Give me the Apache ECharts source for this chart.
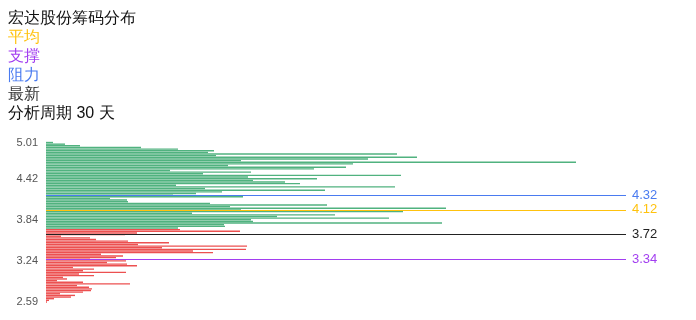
<!DOCTYPE html>
<html><head><meta charset="utf-8">
<script src="https://cdn.jsdelivr.net/npm/echarts@6/dist/echarts.min.js"></script>
<style>html,body{margin:0;padding:0;background:#fff}#c{width:696px;height:320px}</style>
</head><body><div id="c"></div>
<script>
// price bins, bottom to top
const prices = ['2.59','2.62','2.64','2.67','2.69','2.72','2.75','2.77','2.80','2.82','2.85','2.88','2.90','2.93','2.95','2.98','3.01','3.03','3.06','3.08','3.11','3.14','3.16','3.19','3.21','3.24',
 '3.34','3.37','3.39','3.42','3.44','3.47','3.49','3.52','3.54','3.57','3.59','3.62','3.64','3.67','3.69','3.72',
 '3.73','3.75','3.76','3.77','3.79','3.80','3.81','3.83','3.84',
 '3.89','3.93','3.98','4.03','4.07','4.12',
 '4.14','4.16','4.18','4.20','4.22','4.24','4.26','4.28','4.32',
 '4.33','4.34','4.35','4.36','4.37','4.38','4.39','4.40','4.41','4.42',
 '4.45','4.47','4.50','4.53','4.55','4.58','4.61','4.63','4.66','4.69','4.72','4.74','4.77','4.80','4.82','4.85','4.88','4.90','4.93','4.96','4.98','5.01'];
// chip volume per bin, bottom to top
const chips = [1,3,8,25,29,14,37,45,46,43,31,84,37,11,21,17,48,33,80,37,48,27,91,81,61,80,44,70,77,55,167,147,200,116,201,92,123,82,50,44,15,79,91,194,134,
 132,179,178,396,207,205,343,231,289,146,357,195,400,184,281,164,82,81,64,197,127,150,176,279,159,349,130,254,239,207,271,202,355,157,205,124,268,300,182,307,530,195,322,371,170,351,162,168,132,95,34,19,7];
const profitTop = 44; // last red bin index
const tickLabels = ['2.59','3.24','3.84','4.42','5.01'];
const levels = [
  {name:'阻力', price:'4.32', color:'#4a7bf0'},
  {name:'平均', price:'4.12', color:'#ffc20e'},
  {name:'最新', price:'3.72', color:'#222222'},
  {name:'支撑', price:'3.34', color:'#a23ef0'}
];
const titleLines = [
  {text:'宏达股份筹码分布', color:'#111111'},
  {text:'平均', color:'#ffc20e'},
  {text:'支撑', color:'#a23ef0'},
  {text:'阻力', color:'#4a7bf0'},
  {text:'最新', color:'#333333'},
  {text:'分析周期 30 天', color:'#111111'}
];

const green = chips.map((v,i)=> i>profitTop ? v : '-');
const red = chips.map((v,i)=> i<=profitTop ? v : '-');

const chart = echarts.init(document.getElementById('c'), null, {renderer:'canvas'});
chart.setOption({
  animation:false,
  title: titleLines.map((t,i)=>({text:t.text, left:8, top:10.5+19*i, padding:0,
     textStyle:{fontSize:16, fontWeight:'normal', color:t.color}})),
  grid:{left:46, right:70, top:141.7, height:161.1},
  xAxis:{type:'value', min:0, max:580, show:false},
  yAxis:{type:'category', data:prices, boundaryGap:true,
    axisLine:{show:false}, axisTick:{show:false}, splitLine:{show:false},
    axisLabel:{interval:(i,v)=>tickLabels.includes(v), color:'#555', fontSize:11, margin:8}},
  series:[
    {type:'bar', data:red, stack:'a', barCategoryGap:'15%', itemStyle:{color:'#ec5050'}},
    {type:'bar', data:green, stack:'a', barCategoryGap:'15%', itemStyle:{color:'#50b27f'},
     markLine:{symbol:'none', silent:true,
       data: levels.map(l=>({name:l.price, yAxis:l.price,
         lineStyle:{color:l.color, width:1, type:'solid'},
         label:{show:true, position:'end', formatter:'{b}', color:l.color, fontSize:13, distance:6}}))}}
  ]
});
</script></body></html>
